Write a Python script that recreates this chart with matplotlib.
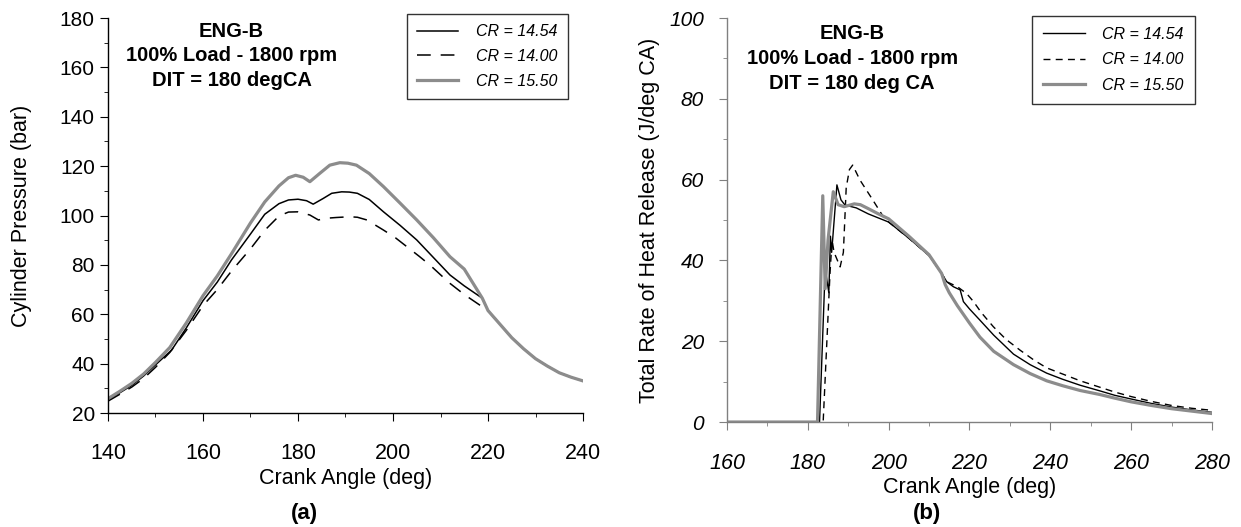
import numpy as np
import matplotlib
matplotlib.use('Agg')
import matplotlib.pyplot as plt
from matplotlib.ticker import MultipleLocator

plt.rcParams['font.family'] = ['Liberation Sans', 'DejaVu Sans']

# (a) cylinder pressure vs crank angle
ca_a_1454 = [140, 142.5, 145, 147.5, 150, 153.4, 156.5, 160, 163, 166, 170, 173, 176, 178, 180,
             181.8, 183.2, 185.3, 187.1, 189.2, 190.8, 192.5, 195, 198, 201.5, 205, 208.5, 212,
             215, 218.8, 220, 222.5, 225, 227.5, 230, 232.5, 235, 237.5, 240]
p_1454 = [25.3, 28.2, 31.2, 35, 39.5, 45.5, 54.5, 65.5, 73, 82, 92.5, 100.5, 104.8, 106.3, 106.6,
          106, 104.6, 106.9, 109, 109.6, 109.5, 109, 106.5, 101.5, 96, 90.1, 83, 75.9,
          71.5, 66.5, 61.5, 56, 50.5, 46, 42, 39, 36.3, 34.5, 33]

ca_a_1400 = [140, 142.5, 145, 147.5, 150, 153, 156.5, 160, 163, 166, 170, 173, 176, 178, 180,
             182.5, 184.3, 186, 188.1, 190.9, 192.5, 194.5, 198, 200.5, 202.9, 205.5, 207.8,
             210, 212, 215, 219.2, 220, 222.5, 225, 227.5, 230, 232.5, 235, 237.5, 240]
p_1400 = [24.8, 27.6, 30.5, 34, 38.5, 44.5, 53.5, 63.5, 70, 77.5, 86.5, 94, 99.8, 101.4, 101.5,
          100.2, 98.2, 98.9, 99.2, 99.5, 99.3, 98.2, 94.1, 91, 87.4, 83.5, 79.9,
          76, 72.5, 68, 62.5, 61.5, 56, 50.5, 46, 42, 39, 36.3, 34.5, 33]

ca_a_1550 = [140, 142.5, 145, 147.5, 150, 153, 156.5, 160, 163, 166, 170, 173, 176, 178, 179.5,
             181.1, 182.5, 184.6, 186.7, 188.8, 190.5, 192.3, 195, 198, 201.5, 205, 208.5, 212,
             215, 218.8, 220, 222.5, 225, 227.5, 230, 232.5, 235, 237.5, 240]
p_1550 = [25.8, 28.8, 32, 35.8, 40.5, 46.5, 56.5, 67.5, 75.5, 84.5, 97, 105.5, 112, 115.3, 116.3,
          115.5, 113.7, 117.1, 120.4, 121.4, 121.2, 120.4, 117, 111.7, 105, 98.2, 91, 83.3,
          78.3, 66.5, 61.5, 56, 50.5, 46, 42, 39, 36.3, 34.5, 33]

# (b) total rate of heat release vs crank angle
ca_b_1454 = [160, 182.9, 184.3, 185.2, 185.6, 185.9, 187.2, 188.2, 189.2, 192, 195, 200, 205, 210,
             213.1, 214.4, 216, 217.7, 218.5, 220, 222.6, 226, 230.9, 235, 239.1, 243, 247.4,
             252.3, 256, 260, 265, 270, 275, 280]
hr_1454 = [0, 0, 38, 32, 46, 42, 58.7, 55, 53.7, 53, 51.5, 49.5, 45.5, 41.2,
           36.8, 34.7, 33.5, 32.7, 29.8, 28, 25.2, 21.5, 16.8, 14.2, 12.1, 10.6, 9.1,
           7.7, 6.6, 5.7, 4.6, 3.7, 3.0, 2.4]

ca_b_1400 = [160, 183.8, 185.5, 186.0, 186.5, 188.0, 188.8, 189.5, 190.3, 191.1, 192.9, 195.8,
             198.7, 200, 205, 210, 213.1, 214.4, 217, 219.3, 221, 223, 225.9, 229, 232.5, 236,
             239.1, 243, 247.4, 252.3, 256, 260, 265, 270, 275, 280]
hr_1400 = [0, 0, 37, 45, 42, 38.4, 42, 58, 62.5, 63.6, 59.9, 55.4,
           50.8, 49.5, 45.5, 41.2, 36.8, 34.7, 33.5, 31.8, 29.8, 27, 23.6, 20.5, 17.8, 15.3,
           13.4, 11.9, 10.2, 8.6, 7.4, 6.3, 5.1, 4.1, 3.4, 2.9]

ca_b_1550 = [160, 182.4, 183.7, 184.3, 185.0, 186.3, 187.5, 189, 191.5, 193, 195, 197.5, 200, 205,
             210, 213.1, 214.0, 215, 217, 220, 222.6, 226, 230.9, 235, 239.1, 243, 247.4, 252.3,
             256, 260, 265, 270, 275, 280]
hr_1550 = [0, 0, 56, 33, 45, 57, 53.8, 53.3, 54, 53.8, 52.8, 51.5, 50.3, 46,
           41.4, 36.8, 34, 32, 28.8, 24.5, 21, 17.5, 14.2, 12, 10.2, 9, 7.8, 6.8,
           5.9, 5.0, 4.1, 3.3, 2.7, 2.1]

labels = ['CR = 14.54', 'CR = 14.00', 'CR = 15.50']
gray = '#8c8c8c'

fig = plt.figure(figsize=(12.41, 5.27), dpi=100)
ax1 = fig.add_axes([0.0870, 0.2163, 0.3828, 0.7495])
ax2 = fig.add_axes([0.5858, 0.1992, 0.3908, 0.7666])

# panel (a)
ax1.plot(ca_a_1454, p_1454, color='black', lw=1.1, label=labels[0])
ax1.plot(ca_a_1400, p_1400, color='black', lw=1.1, dashes=(9, 6.5), label=labels[1])
ax1.plot(ca_a_1550, p_1550, color=gray, lw=2.3, label=labels[2])
ax1.set_xlim(140, 240)
ax1.set_ylim(20, 180)
ax1.xaxis.set_major_locator(MultipleLocator(20))
ax1.xaxis.set_minor_locator(MultipleLocator(10))
ax1.yaxis.set_major_locator(MultipleLocator(20))
ax1.yaxis.set_minor_locator(MultipleLocator(10))
ax1.tick_params(axis='x', which='major', length=5.5, pad=16, labelsize=15.5)
ax1.tick_params(axis='y', which='major', length=5.5, pad=4, labelsize=15)
ax1.tick_params(which='minor', length=3)
ax1.set_xlabel('Crank Angle (deg)', fontsize=15.5)
ax1.set_ylabel('Cylinder Pressure (bar)', fontsize=15.5)
ax1.xaxis.set_label_coords(0.5, -0.165)
ax1.xaxis.label.set_va('center')
ax1.yaxis.set_label_coords(-0.181, 0.5)
ax1.yaxis.label.set_va('center')
ax1.text(0.26, 0.966, 'ENG-B', transform=ax1.transAxes, ha='center', va='center',
         fontsize=14.5, fontweight='bold')
ax1.text(0.26, 0.906, '100% Load - 1800 rpm', transform=ax1.transAxes, ha='center', va='center',
         fontsize=14.5, fontweight='bold')
ax1.text(0.26, 0.843, 'DIT = 180 degCA', transform=ax1.transAxes, ha='center', va='center',
         fontsize=14.5, fontweight='bold')
leg1 = ax1.legend(loc='upper right', bbox_to_anchor=(0.968, 1.01), borderaxespad=0,
                  prop={'style': 'italic', 'size': 11.5}, frameon=True, fancybox=False,
                  edgecolor='black', handlelength=2.6, handletextpad=1.1, labelspacing=0.6,
                  borderpad=0.65)
leg1.get_frame().set_linewidth(1.0)

# panel (b)
ax2.plot(ca_b_1454, hr_1454, color='black', lw=1.0, label=labels[0])
ax2.plot(ca_b_1400, hr_1400, color='black', lw=1.0, dashes=(5, 3.8), label=labels[1])
ax2.plot(ca_b_1550, hr_1550, color=gray, lw=2.3, label=labels[2])
ax2.set_xlim(160, 280)
ax2.set_ylim(0, 100)
ax2.xaxis.set_major_locator(MultipleLocator(20))
ax2.xaxis.set_minor_locator(MultipleLocator(10))
ax2.yaxis.set_major_locator(MultipleLocator(20))
ax2.yaxis.set_minor_locator(MultipleLocator(10))
ax2.tick_params(axis='x', which='major', length=5.5, pad=17, labelsize=15.5)
ax2.tick_params(axis='y', which='major', length=5.5, pad=11, labelsize=15)
ax2.tick_params(which='minor', length=3)
ax2.tick_params(which='both', color='#808080')
for lab in ax2.get_xticklabels() + ax2.get_yticklabels():
    lab.set_style('italic')
ax2.set_xlabel('Crank Angle (deg)', fontsize=15.5)
ax2.set_ylabel('Total Rate of Heat Release (J/deg CA)', fontsize=15.5)
ax2.xaxis.set_label_coords(0.5, -0.163)
ax2.xaxis.label.set_va('center')
ax2.yaxis.set_label_coords(-0.159, 0.5)
ax2.yaxis.label.set_va('center')
ax2.text(0.258, 0.962, 'ENG-B', transform=ax2.transAxes, ha='center', va='center',
         fontsize=14.5, fontweight='bold')
ax2.text(0.258, 0.900, '100% Load - 1800 rpm', transform=ax2.transAxes, ha='center', va='center',
         fontsize=14.5, fontweight='bold')
ax2.text(0.258, 0.837, 'DIT = 180 deg CA', transform=ax2.transAxes, ha='center', va='center',
         fontsize=14.5, fontweight='bold')
leg2 = ax2.legend(loc='upper right', bbox_to_anchor=(0.965, 1.006), borderaxespad=0,
                  prop={'style': 'italic', 'size': 11.5}, frameon=True, fancybox=False,
                  edgecolor='black', handlelength=2.6, handletextpad=1.1, labelspacing=0.65,
                  borderpad=0.7)
leg2.get_frame().set_linewidth(1.0)

for ax, sc in ((ax1, 'black'), (ax2, '#808080')):
    ax.spines['top'].set_visible(False)
    ax.spines['right'].set_visible(False)
    ax.spines['left'].set_color(sc)
    ax.spines['bottom'].set_color(sc)
    ax.spines['left'].set_linewidth(1.0)
    ax.spines['bottom'].set_linewidth(1.0)

fig.text(304 / 1241, 1 - 514 / 527, '(a)', ha='center', va='center', fontsize=16, fontweight='bold')
fig.text(927 / 1241, 1 - 514 / 527, '(b)', ha='center', va='center', fontsize=16, fontweight='bold')

fig.savefig('out.png', dpi=100)
